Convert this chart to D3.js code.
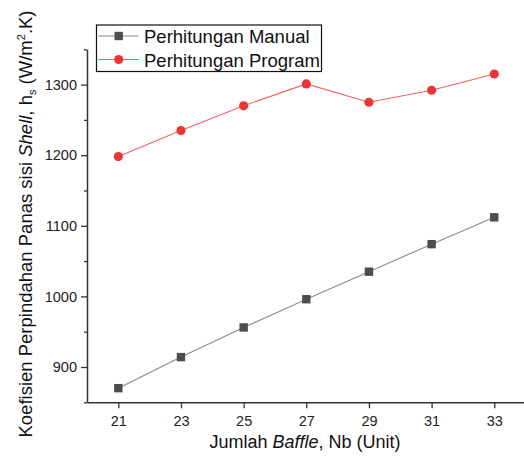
<!DOCTYPE html>
<html>
<head>
<meta charset="utf-8">
<script src="https://cdn.jsdelivr.net/npm/d3@7"></script>
<style>
  body { margin: 0; background: #fff; }
  svg { display: block; font-family: "Liberation Sans", Arial, sans-serif; }
</style>
</head>
<body>
<div id="chart"></div>
<script>
// data
var baffles = [21, 23, 25, 27, 29, 31, 33];
var manual = [870, 914, 956, 996, 1035, 1074, 1112];
var program = [1198, 1235, 1270, 1301, 1275, 1292, 1315];
var xTicks = [21, 23, 25, 27, 29, 31, 33];
var yTicks = [900, 1000, 1100, 1200, 1300];
var yMinor = [850, 950, 1050, 1150, 1250, 1350];

var width = 524, height = 457;
var svg = d3.select("#chart").append("svg")
  .attr("width", width)
  .attr("height", height);

var x = d3.scaleLinear().domain([20, 34]).range([87, 525.6]);
var y = d3.scaleLinear().domain([850, 1350]).range([402.3, 49.3]);

var axisColor = "#333";

// minor y ticks
svg.append("g")
    .attr("transform", "translate(87,0)")
    .call(d3.axisLeft(y).tickValues(yMinor).tickSize(3).tickFormat(""))
    .call(function(g) { g.select(".domain").remove(); })
    .selectAll("line").attr("stroke", axisColor).attr("stroke-width", 1.3);

// y axis
var gy = svg.append("g")
    .attr("transform", "translate(87,0)")
    .call(d3.axisLeft(y).tickValues(yTicks).tickFormat(d3.format("d"))
      .tickSize(6).tickSizeOuter(0).tickPadding(4));
gy.select(".domain").attr("stroke", axisColor).attr("stroke-width", 1.5);
gy.selectAll(".tick line").attr("stroke", axisColor).attr("stroke-width", 1.3);
gy.selectAll("text").attr("font-size", "14.5px").attr("fill", "#222")
  .style("font-family", "'Liberation Sans', Arial, sans-serif");

// x axis
var gx = svg.append("g")
    .attr("transform", "translate(0,402.3)")
    .call(d3.axisBottom(x).tickValues(xTicks).tickFormat(d3.format("d"))
      .tickSize(6).tickSizeOuter(0).tickPadding(7));
gx.select(".domain").attr("stroke", axisColor).attr("stroke-width", 1.5);
gx.selectAll(".tick line").attr("stroke", axisColor).attr("stroke-width", 1.3);
gx.selectAll("text").attr("font-size", "14.5px").attr("fill", "#222")
  .style("font-family", "'Liberation Sans', Arial, sans-serif");

// x title
var xt = svg.append("text")
    .attr("x", 305)
    .attr("y", 448)
    .attr("text-anchor", "middle")
    .attr("font-size", "18px")
    .attr("fill", "#111");
xt.append("tspan").text("Jumlah ");
xt.append("tspan").attr("font-style", "italic").text("Baffle");
xt.append("tspan").text(", Nb (Unit)");

// y title
var yt = svg.append("text")
    .attr("transform", "translate(32,224) rotate(-90)")
    .attr("text-anchor", "middle")
    .attr("font-size", "18.5px")
    .attr("fill", "#111");
yt.append("tspan").text("Koefisien Perpindahan Panas sisi ");
yt.append("tspan").attr("font-style", "italic").text("Shell");
yt.append("tspan").text(", h");
yt.append("tspan").attr("font-size", "11px").attr("dy", "4").text("s");
yt.append("tspan").attr("dy", "-4").text(" (W/m");
yt.append("tspan").attr("font-size", "11px").attr("dy", "-7").text("2");
yt.append("tspan").attr("dy", "7").text(".K)");

var line = d3.line()
  .x(function(d, i) { return x(baffles[i]); })
  .y(function(d) { return y(d); });

var manualColor = "#4d4d4d", manualLine = "#8a8a8a";
var progColor = "#ee3535", progLine = "#f06060";

// manual series
svg.append("path")
    .datum(manual)
    .attr("d", line)
    .attr("fill", "none")
    .attr("stroke", manualLine)
    .attr("stroke-width", 1.1);
svg.append("g").selectAll("rect")
    .data(manual)
    .enter().append("rect")
    .attr("x", function(d, i) { return x(baffles[i]) - 4.2; })
    .attr("y", function(d) { return y(d) - 4.2; })
    .attr("width", 8.4)
    .attr("height", 8.4)
    .attr("fill", manualColor);

// program series
svg.append("path")
    .datum(program)
    .attr("d", line)
    .attr("fill", "none")
    .attr("stroke", progLine)
    .attr("stroke-width", 1.1);
svg.append("g").selectAll("circle")
    .data(program)
    .enter().append("circle")
    .attr("cx", function(d, i) { return x(baffles[i]); })
    .attr("cy", function(d) { return y(d); })
    .attr("r", 4.6)
    .attr("fill", progColor);

// legend
var legend = svg.append("g");
legend.append("rect")
    .attr("x", 96.5)
    .attr("y", 25)
    .attr("width", 225)
    .attr("height", 46.5)
    .attr("fill", "#fff")
    .attr("stroke", "#111")
    .attr("stroke-width", 1.2);
var items = [
  {name: "Perhitungan Manual", line: manualLine, color: manualColor, shape: "square", cy: 36},
  {name: "Perhitungan Program", line: progLine, color: progColor, shape: "circle", cy: 59.5}
];
items.forEach(function(it) {
  legend.append("line")
      .attr("x1", 98.5).attr("x2", 138.5)
      .attr("y1", it.cy).attr("y2", it.cy)
      .attr("stroke", it.line)
      .attr("stroke-width", 1.1);
  if (it.shape == "square") {
    legend.append("rect")
        .attr("x", 118.7 - 4.2).attr("y", it.cy - 4.2)
        .attr("width", 8.4).attr("height", 8.4)
        .attr("fill", it.color);
  } else {
    legend.append("circle")
        .attr("cx", 118.7).attr("cy", it.cy)
        .attr("r", 4.6)
        .attr("fill", it.color);
  }
  legend.append("text")
      .attr("x", 144)
      .attr("y", it.cy + 7)
      .attr("font-size", "18.5px")
      .attr("fill", "#111")
      .text(it.name);
});
</script>
</body>
</html>
